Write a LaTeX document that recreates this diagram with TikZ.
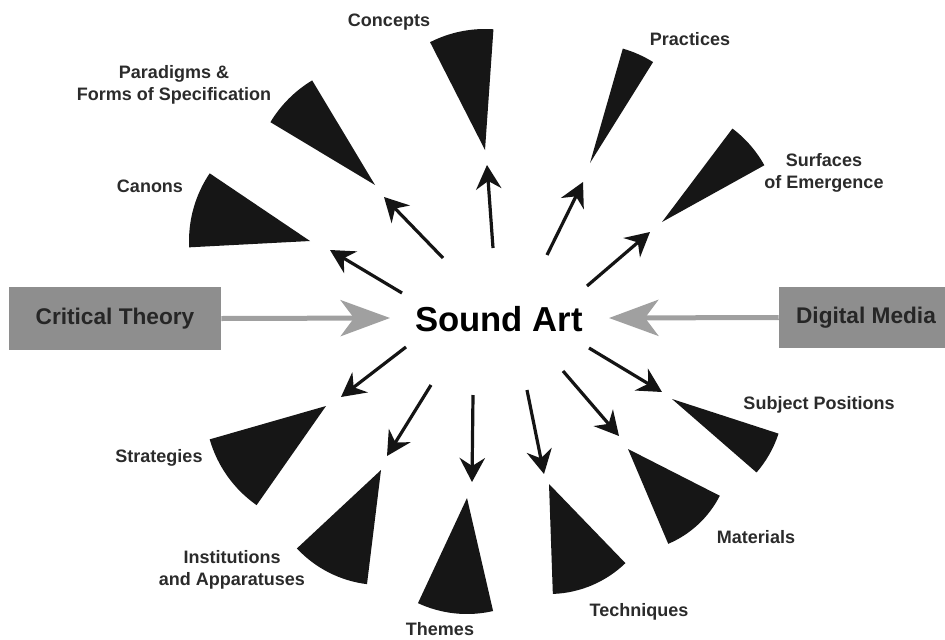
\documentclass[tikz,border=0pt]{standalone}
\usepackage{fontspec}
\setmainfont{Liberation Sans}
\usetikzlibrary{arrows.meta}
\definecolor{wedgec}{HTML}{161616}
\definecolor{labelc}{HTML}{2B2B2B}
\definecolor{boxc}{HTML}{8E8E8E}
\definecolor{garrow}{HTML}{A0A0A0}
\begin{document}
\begin{tikzpicture}[x=0.75pt,y=-0.75pt,
  wedge/.style={fill=wedgec},
  spoke/.style={line width=2.4pt, draw=black!92, -{Stealth[length=18pt,width=19pt,inset=6pt]}},
  feed/.style={line width=3.75pt, draw=garrow, -{Stealth[length=37pt,width=27pt,inset=10pt]}},
  lbl/.style={font=\fontsize{13.5}{17}\selectfont\bfseries, text=labelc, align=center, inner sep=0pt},
  srcbox/.style={fill=boxc, font=\fontsize{17}{20}\selectfont\bfseries, text=black!85, inner sep=0pt}]
\useasboundingbox (0,0) rectangle (945,639);
\clip (0,0) rectangle (945,639);
\fill[white] (0,0) rectangle (945,639);

% centre
\node[font=\fontsize{26}{30}\selectfont\bfseries, inner sep=0pt] (sa) at (499,319) {Sound Art};

% source boxes and grey arrows
\node[srcbox, minimum width=159pt, minimum height=47.25pt] (ct) at (115,318.5) {Critical Theory};
\node[srcbox, minimum width=130.5pt, minimum height=45.75pt] (dm) at (866,317.5) {Digital Media};
\coordinate (ctip) at (390,318);
\coordinate (dtip) at (609,318);
\draw[feed] (ct.east) -- (ctip);
\draw[feed] (dm.west) -- (dtip);

% wedge apexes
\coordinate (wCon) at (485,150);
\coordinate (wPra) at (590,163);
\coordinate (wSur) at (662,222);
\coordinate (wPar) at (375,185);
\coordinate (wCan) at (310,241);
\coordinate (wStr) at (326,406);
\coordinate (wIns) at (381,470);
\coordinate (wThe) at (467,498);
\coordinate (wTec) at (549,484);
\coordinate (wMat) at (628,449);
\coordinate (wSub) at (672,399);

% wedges
\fill[wedge] (wCon) -- ++(-117:121) arc[start angle=-117, end angle=-86, radius=121] -- cycle;
\fill[wedge] (wPra) -- ++(-74:119) arc[start angle=-74, end angle=-58, radius=119] -- cycle;
\fill[wedge] (wSur) -- ++(-53:117) arc[start angle=-53, end angle=-29, radius=117] -- cycle;
\fill[wedge] (wPar) -- ++(-149:122) arc[start angle=-149, end angle=-121, radius=122] -- cycle;
\fill[wedge] (wCan) -- ++(177:121) arc[start angle=177, end angle=214, radius=121] -- cycle;
\fill[wedge] (wStr) -- ++(125:121) arc[start angle=125, end angle=164, radius=121] -- cycle;
\fill[wedge] (wIns) -- ++(97:115) arc[start angle=97, end angle=137, radius=115] -- cycle;
\fill[wedge] (wThe) -- ++(77:116) arc[start angle=77, end angle=115, radius=116] -- cycle;
\fill[wedge] (wTec) -- ++(46:110) arc[start angle=46, end angle=88, radius=110] -- cycle;
\fill[wedge] (wMat) -- ++(27:103) arc[start angle=27, end angle=67, radius=103] -- cycle;
\fill[wedge] (wSub) -- ++(18:112) arc[start angle=18, end angle=41, radius=112] -- cycle;

% spoke tails and tips
\coordinate (tCon) at (493,248);  \coordinate (hCon) at (487,165);
\coordinate (tPra) at (547,255);  \coordinate (hPra) at (583,182);
\coordinate (tSur) at (587,286);  \coordinate (hSur) at (650,232);
\coordinate (tPar) at (443,258);  \coordinate (hPar) at (384,197);
\coordinate (tCan) at (402,293);  \coordinate (hCan) at (330,250);
\coordinate (tStr) at (406,347);  \coordinate (hStr) at (341,397);
\coordinate (tIns) at (431,385);  \coordinate (hIns) at (387,456);
\coordinate (tThe) at (473,395);  \coordinate (hThe) at (472,482);
\coordinate (tTec) at (527,390);  \coordinate (hTec) at (544,474);
\coordinate (tMat) at (563,371);  \coordinate (hMat) at (619,436);
\coordinate (tSub) at (589,348);  \coordinate (hSub) at (662,392);

\draw[spoke] (tCon) -- (hCon);
\draw[spoke] (tPra) -- (hPra);
\draw[spoke] (tSur) -- (hSur);
\draw[spoke] (tPar) -- (hPar);
\draw[spoke] (tCan) -- (hCan);
\draw[spoke] (tStr) -- (hStr);
\draw[spoke] (tIns) -- (hIns);
\draw[spoke] (tThe) -- (hThe);
\draw[spoke] (tTec) -- (hTec);
\draw[spoke] (tMat) -- (hMat);
\draw[spoke] (tSub) -- (hSub);

% labels
\node[lbl] (lCon) at (389,22) {Concepts};
\node[lbl] (lPra) at (690,39) {Practices};
\node[lbl] (lSur) at (824,173) {Surfaces\\of Emergence};
\node[lbl] (lPar) at (174,85) {Paradigms \&\\Forms of Specification};
\node[lbl] (lCan) at (150,186) {Canons};
\node[lbl] (lStr) at (159,458) {Strategies};
\node[lbl] (lIns) at (232,570) {Institutions\\and Apparatuses};
\node[lbl] (lThe) at (440,629) {Themes};
\node[lbl] (lTec) at (639,612) {Techniques};
\node[lbl] (lMat) at (756,537) {Materials};
\node[lbl] (lSub) at (819,405) {Subject Positions};
\end{tikzpicture}
\end{document}
